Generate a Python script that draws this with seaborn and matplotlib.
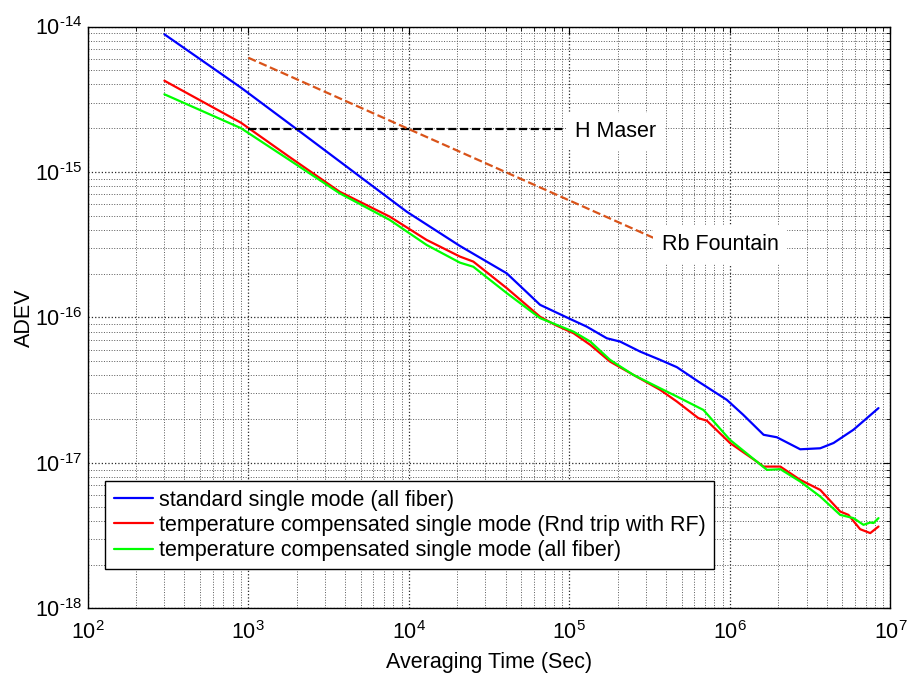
import numpy as np
import pandas as pd
import seaborn as sns
import matplotlib.pyplot as plt
from matplotlib.ticker import FixedLocator, NullFormatter, FuncFormatter

# Averaging time (s) and ADEV values
tau_blue = [300, 900, 2000, 9700, 20800, 40700, 65700, 98600, 1.28e5, 1.71e5,
            2.07e5, 2.76e5, 3.67e5, 4.67e5, 6.36e5, 9.57e5, 1.21e6, 1.62e6,
            1.96e6, 2.74e6, 3.65e6, 4.42e6, 5.88e6, 8.42e6]
adev_blue = [8.84e-15, 3.80e-15, 1.97e-15, 5.33e-16, 3.10e-16, 2.01e-16, 1.22e-16,
             9.88e-17, 8.65e-17, 7.19e-17, 6.82e-17, 5.82e-17, 5.11e-17, 4.55e-17,
             3.62e-17, 2.71e-17, 2.14e-17, 1.56e-17, 1.50e-17, 1.24e-17, 1.26e-17,
             1.37e-17, 1.69e-17, 2.38e-17]

tau_red = [300, 900, 1800, 3700, 7600, 12900, 20800, 25200, 40700, 65700, 81500,
           1.06e5, 1.35e5, 1.79e5, 2.5e5, 3.67e5, 4.67e5, 6.36e5, 7.18e5, 1.0e6,
           1.47e6, 1.62e6, 2.06e6, 2.74e6, 3.65e6, 4.86e6, 5.47e6, 6.47e6, 7.48e6,
           8.42e6]
adev_red = [4.24e-15, 2.18e-15, 1.27e-15, 7.32e-16, 4.93e-16, 3.41e-16, 2.62e-16,
            2.42e-16, 1.59e-16, 1.01e-16, 8.88e-17, 7.79e-17, 6.47e-17, 4.97e-17,
            4.03e-17, 3.18e-17, 2.64e-17, 2.03e-17, 1.95e-17, 1.37e-17, 1.02e-17,
            9.43e-18, 9.43e-18, 7.64e-18, 6.52e-18, 4.63e-18, 4.39e-18, 3.50e-18,
            3.29e-18, 3.65e-18]

tau_green = [300, 900, 1800, 3700, 7600, 12900, 20800, 25200, 40700, 65700, 81500,
             1.06e5, 1.35e5, 1.79e5, 2.5e5, 3.67e5, 4.67e5, 6.84e5, 1.0e6, 1.47e6,
             1.70e6, 2.06e6, 2.74e6, 3.65e6, 4.86e6, 5.88e6, 6.79e6, 7.48e6, 7.84e6,
             8.42e6]
adev_green = [3.42e-15, 2.0e-15, 1.21e-15, 7.14e-16, 4.68e-16, 3.15e-16, 2.38e-16,
              2.23e-16, 1.47e-16, 9.88e-17, 8.98e-17, 7.98e-17, 6.82e-17, 5.11e-17,
              4.03e-17, 3.26e-17, 2.86e-17, 2.31e-17, 1.44e-17, 1.02e-17, 8.95e-18,
              9.05e-18, 7.44e-18, 5.87e-18, 4.39e-18, 4.17e-18, 3.75e-18, 3.89e-18,
              3.86e-18, 4.17e-18]

labels = ['standard single mode (all fiber)',
          'temperature compensated single mode (Rnd trip with RF)',
          'temperature compensated single mode (all fiber)']
colors = ['#0000FF', '#FF0000', '#00FF00']

# reference clocks
maser_tau = [1e3, 9.4e4]
maser_adev = [1.98e-15, 1.98e-15]
rb_tau = [1e3, 3.33e5]
rb_adev = [6.1e-15, 3.53e-16]

x_decades = [1e2, 1e3, 1e4, 1e5, 1e6, 1e7]
y_decades = [1e-18, 1e-17, 1e-16, 1e-15, 1e-14]

df = pd.concat([
    pd.DataFrame({'tau': tau_blue, 'adev': adev_blue, 'series': labels[0]}),
    pd.DataFrame({'tau': tau_red, 'adev': adev_red, 'series': labels[1]}),
    pd.DataFrame({'tau': tau_green, 'adev': adev_green, 'series': labels[2]}),
])

sns.set_style('white')
plt.rcParams['font.family'] = ['Liberation Sans', 'DejaVu Sans']
plt.rcParams['mathtext.default'] = 'regular'
plt.rcParams['text.color'] = 'black'
plt.rcParams['axes.labelcolor'] = 'black'

FS = 15.5


def pow10(v, pos):
    e = int(round(np.log10(v)))
    s = str(e).replace('-', '\u2010')
    return '$10^{' + s + '}$'


fig = plt.figure(figsize=(9.07, 6.73), dpi=100)
ax = fig.add_axes([0.0968, 0.0961, 0.885, 0.8645])

ax.set_xscale('log')
ax.set_yscale('log')

sns.lineplot(data=df, x='tau', y='adev', hue='series', palette=colors,
             hue_order=labels, estimator=None, sort=False, linewidth=1.6, ax=ax)

sns.lineplot(x=maser_tau, y=maser_adev, color='black', linestyle='--',
             linewidth=1.6, legend=False, ax=ax)
sns.lineplot(x=rb_tau, y=rb_adev, color='#D95319', linestyle='--',
             linewidth=1.6, legend=False, ax=ax)

ax.text(1.08e5, 1.90e-15, 'H Maser', fontsize=FS, va='center', ha='left',
        bbox=dict(facecolor='white', edgecolor='none', pad=6))
ax.text(3.75e5, 3.15e-16, 'Rb Fountain', fontsize=FS, va='center', ha='left',
        bbox=dict(facecolor='white', edgecolor='none', pad=6))

ax.set_xlim(1e2, 1e7)
ax.set_ylim(1e-18, 1e-14)
ax.xaxis.set_major_locator(FixedLocator(x_decades))
ax.yaxis.set_major_locator(FixedLocator(y_decades))
ax.xaxis.set_major_formatter(FuncFormatter(pow10))
ax.yaxis.set_major_formatter(FuncFormatter(pow10))
x_minor = [m * d for d in x_decades[:-1] for m in range(2, 10)]
y_minor = [m * d for d in y_decades[:-1] for m in range(2, 10)]
ax.xaxis.set_minor_locator(FixedLocator(x_minor))
ax.yaxis.set_minor_locator(FixedLocator(y_minor))
ax.xaxis.set_minor_formatter(NullFormatter())
ax.yaxis.set_minor_formatter(NullFormatter())

ax.grid(True, which='major', color='0.15', linestyle=':', linewidth=0.9)
ax.grid(True, which='minor', color='0.35', linestyle=':', linewidth=0.7)
ax.tick_params(which='both', direction='in', top=True, right=True,
               labelsize=FS, color='black', labelcolor='black')
ax.tick_params(which='major', length=5)
ax.tick_params(which='minor', length=3)
ax.tick_params(axis='x', which='major', pad=9)
ax.tick_params(axis='y', which='major', pad=4)
for s in ax.spines.values():
    s.set_color('black')
    s.set_linewidth(1.0)

ax.set_xlabel('Averaging Time (Sec)', fontsize=FS, labelpad=6)
ax.set_ylabel('ADEV', fontsize=FS)
ax.yaxis.set_label_coords(-0.066, 0.5)

leg = ax.legend(loc='lower left', bbox_to_anchor=(0.022, 0.067), fontsize=FS,
                frameon=True, fancybox=False, borderaxespad=0, handlelength=1.85,
                handletextpad=0.25, borderpad=0.38, labelspacing=0.2)
leg.get_frame().set_edgecolor('black')
leg.get_frame().set_linewidth(1.0)
leg.get_frame().set_alpha(1)

fig.savefig('out.png', dpi=100)
